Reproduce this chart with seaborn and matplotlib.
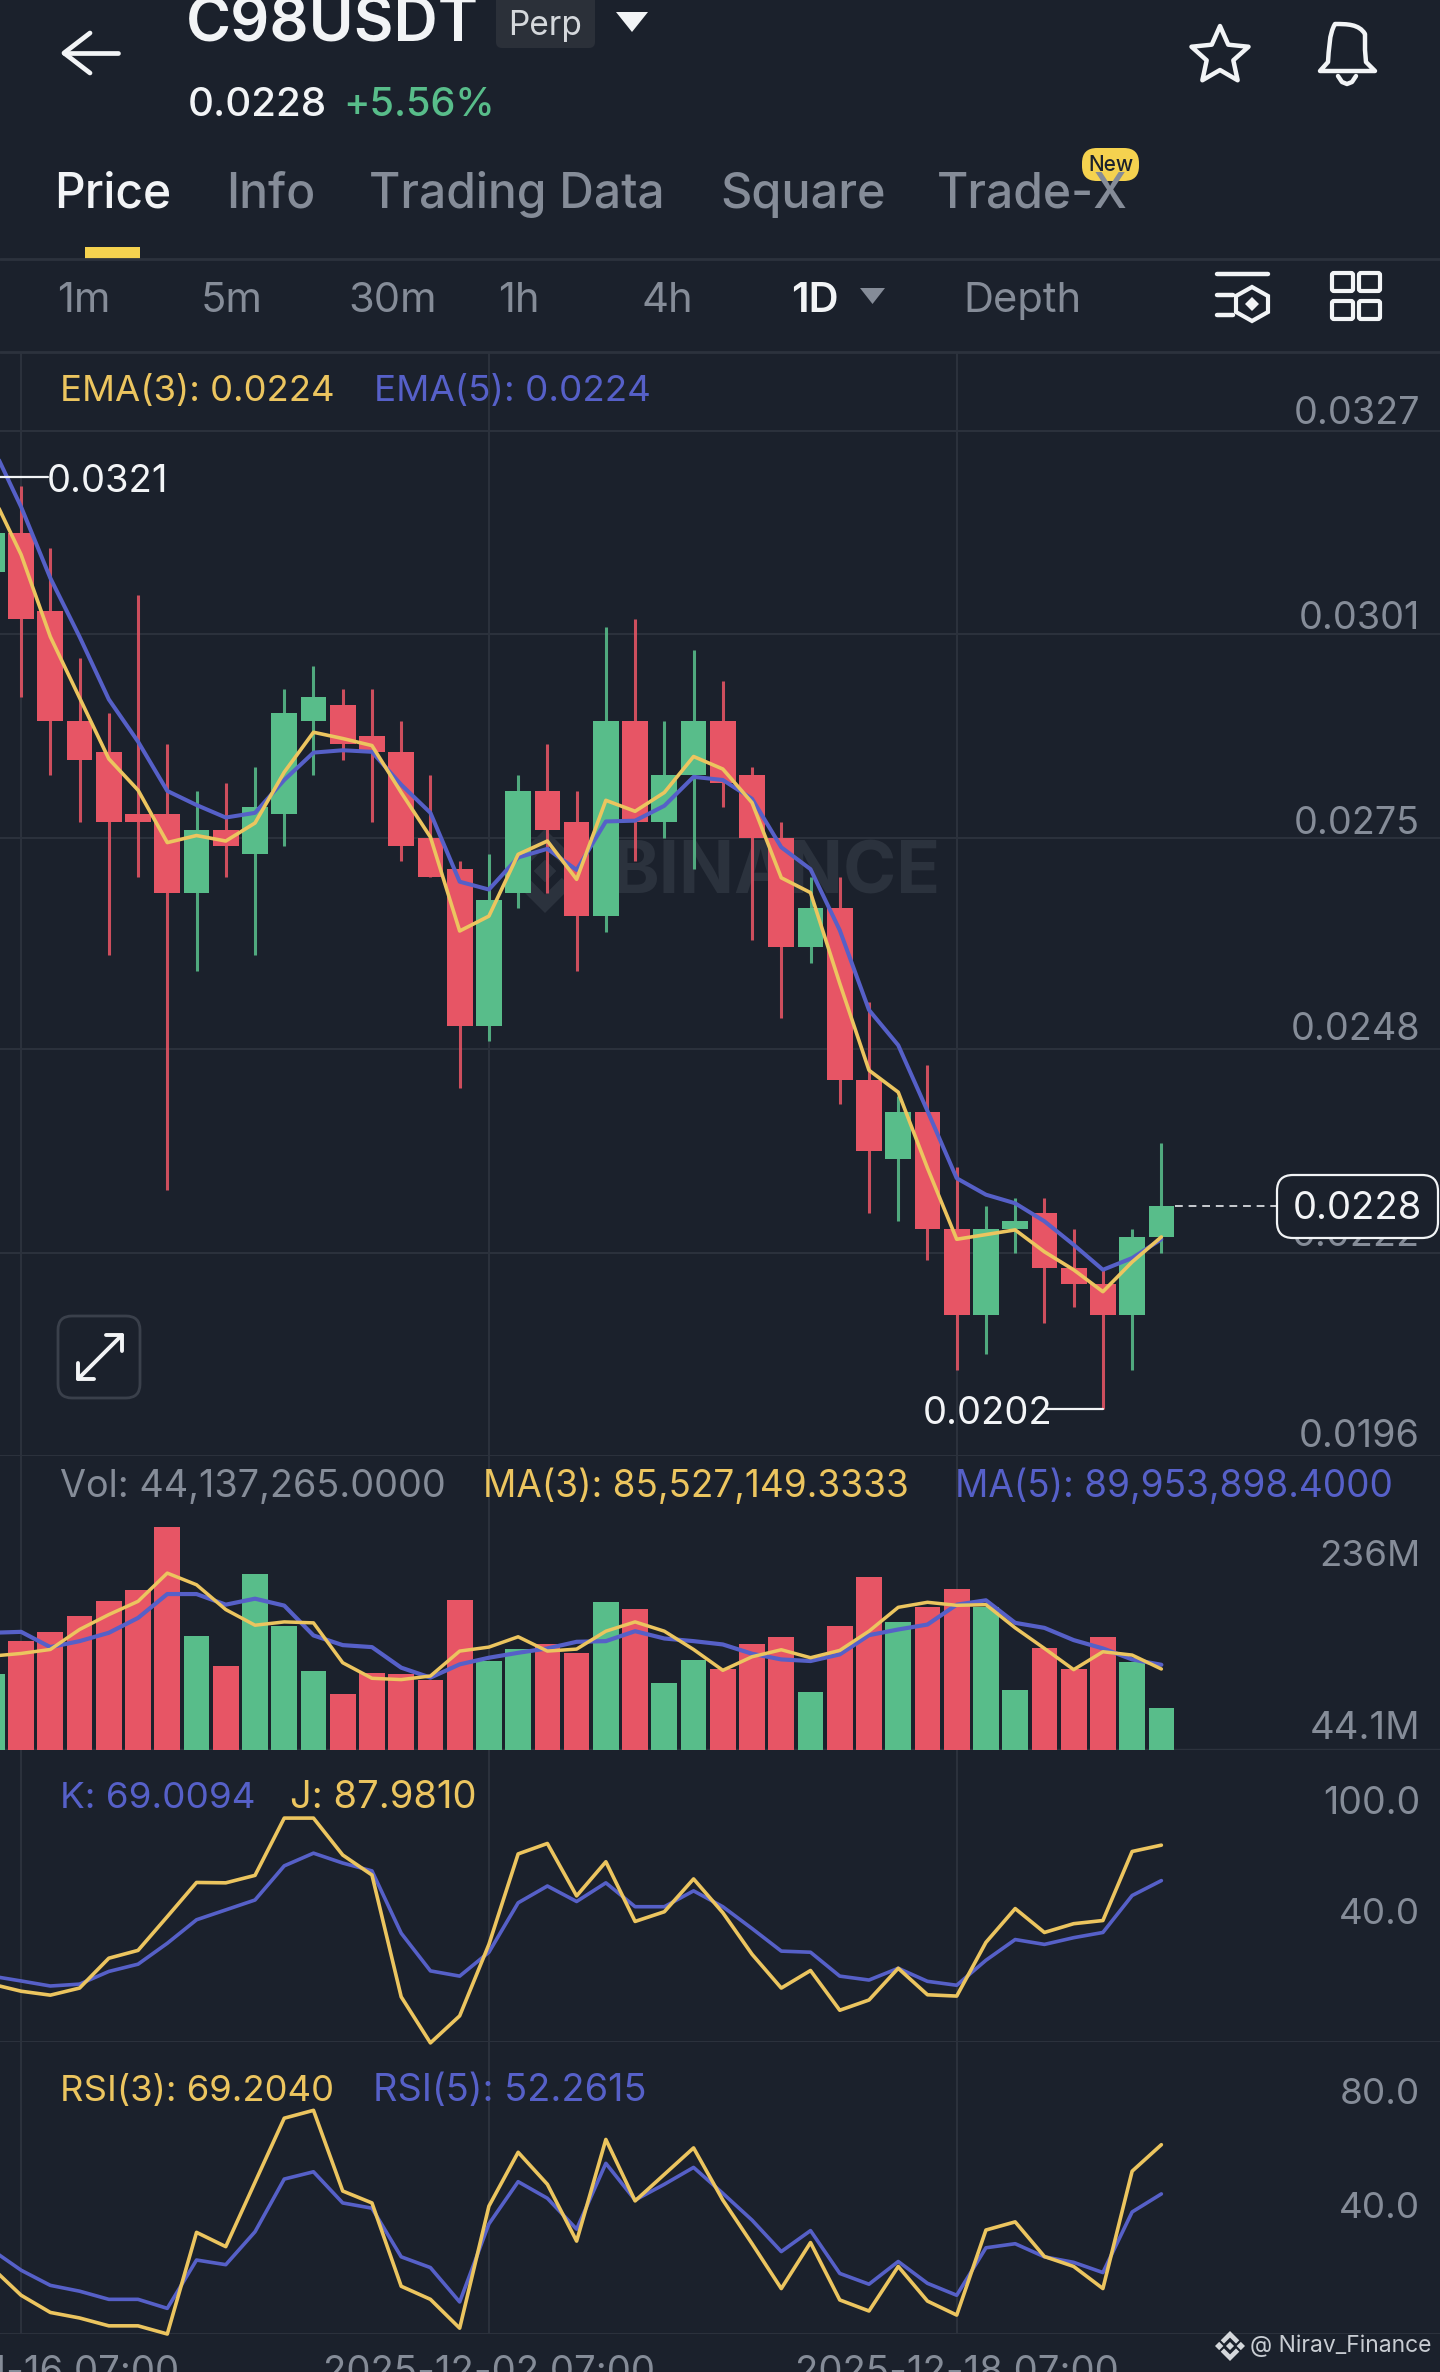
import numpy as np
import pandas as pd
import matplotlib.pyplot as plt
from matplotlib.patches import FancyBboxPatch, PathPatch, Polygon, Rectangle
from matplotlib.path import Path
import seaborn as sns

BG = "#1b212c"
GRID = "#2c323d"
GRAY = "#858c98"
WHITE = "#f2f4f6"
RED = "#e75565"
GREEN = "#58bd8a"
YELLOW = "#ecc55f"
BLUE = "#5660c8"

# candles from index -1 to 39
candle_idx = list(range(-1, 40))
is_up = [1, 0, 0, 0, 0, 0, 0, 1, 0, 1, 1, 1, 0, 0, 0, 0, 0, 1, 1, 0, 0, 1, 0, 1, 1, 0, 0, 0, 1, 0, 0, 1, 0, 0, 1, 1, 0, 0, 0, 1, 1]
body_top = [.0314, .0314, .0304, .0290, .0286, .0278, .0278, .0276, .0276, .0279, .0291, .0293, .0292, .0288, .0286, .0275, .0271, .0267, .0281, .0281,
            .0277, .0290, .0290, .0283, .0290, .0290, .0283, .0275, .0266, .0266, .0244, .0240, .0240, .0225, .0225, .0226, .0227, .0220, .0218, .0224, .0228]
body_bot = [.0309, .0303, .0290, .0285, .0277, .0277, .0268, .0268, .0274, .0273, .0278, .0290, .0287, .0286, .0274, .0270, .0251, .0251, .0268, .0276,
            .0265, .0265, .0277, .0277, .0283, .0282, .0275, .0261, .0261, .0244, .0235, .0234, .0225, .0214, .0214, .0225, .0220, .0218, .0214, .0214, .0224]
wick_high = [.0321, .0320, .0312, .0298, .0291, .0306, .0287, .0281, .0282, .0284, .0294, .0297, .0294, .0294, .0290, .0283, .0272, .0273, .0283, .0287,
             .0281, .0302, .0303, .0290, .0299, .0295, .0284, .0277, .0270, .0270, .0254, .0242, .0246, .0233, .0228, .0229, .0229, .0225, .0220, .0225, .0236]
wick_low = [.0305, .0293, .0283, .0277, .0260, .0270, .0230, .0258, .0270, .0260, .0274, .0283, .0285, .0277, .0272, .0270, .0243, .0249, .0266, .0268,
            .0258, .0263, .0272, .0275, .0271, .0279, .0262, .0252, .0259, .0241, .0227, .0226, .0221, .0207, .0209, .0222, .0213, .0215, .0202, .0207, .0222]
ema3 = [.03190, .03112, .03007, .02929, .02851, .02811, .02744, .02753, .02746, .02769, .02834, .02885, .02877, .02868, .02808, .02751, .02631, .02650, .02729, .02746,
        .02697, .02798, .02784, .02808, .02854, .02838, .02795, .02699, .02680, .02564, .02453, .02425, .02328, .02237, .02243, .02249, .02221, .02198, .02170, .02208, .02240]
ema5 = [.03252, .03173, .03082, .03007, .02927, .02873, .02810, .02792, .02776, .02782, .02824, .02859, .02862, .02860, .02818, .02782, .02694, .02684, .02725, .02736,
        .02709, .02771, .02772, .02791, .02828, .02824, .02800, .02738, .02710, .02632, .02530, .02485, .02401, .02315, .02294, .02283, .02260, .02230, .02198, .02213, .02237]
price_ticks = [.0327, .0301, .0275, .0248, .0222, .0196]
price_labels = ["0.0327", "0.0301", "0.0275", "0.0248", "0.0222", "0.0196"]

# volume in millions
volume = [79.9, 114.9, 124.4, 141.9, 157.6, 168.5, 235.7, 120.2, 88.3, 185.7, 131.4, 83.4, 59.6, 80.9, 79.9, 74.3, 158.0, 93.9, 106.1, 112.1,
          101.9, 156.2, 148.9, 71.1, 94.6, 85.8, 111.4, 119.5, 61.7, 131.4, 182.9, 134.9, 151.0, 169.9, 151.0, 63.1, 107.2, 85.1, 119.1, 92.8, 44.1]
vol_ma3 = [99.1, 101.9, 106.1, 127.2, 142.9, 156.9, 186.7, 174.4, 148.2, 131.7, 135.2, 134.2, 92.1, 75.7, 74.3, 78.1, 104.4, 108.6, 119.5, 104.4,
           106.5, 125.4, 135.2, 125.4, 106.1, 84.1, 98.4, 105.8, 97.4, 105.1, 125.4, 150.6, 155.9, 152.7, 153.4, 128.9, 107.2, 84.8, 103.7, 100.2, 85.5]
vol_ma5 = [123.7, 124.7, 108.6, 114.9, 123.7, 139.4, 164.6, 164.6, 153.4, 159.7, 152.4, 120.9, 110.7, 108.6, 86.9, 76.4, 90.4, 97.4, 102.6, 107.2,
           114.2, 114.9, 125.4, 117.7, 114.9, 111.4, 101.6, 95.6, 93.9, 100.9, 121.2, 127.2, 132.4, 153.4, 158.0, 134.2, 128.9, 116.0, 107.2, 95.6, 89.95]

kdj_k = [17.8, 15.2, 12.5, 13.5, 20.3, 24.2, 35.4, 48.0, 53.3, 58.6, 76.9, 83.7, 78.4, 74.2, 40.8, 20.6, 17.8, 30.6, 57.1, 66.1,
         57.8, 67.8, 55.0, 55.0, 63.5, 55.0, 43.3, 31.2, 30.6, 17.8, 15.7, 22.0, 15.0, 12.9, 26.3, 37.4, 34.8, 38.4, 41.2, 61.0, 69.0]
kdj_j = [13.5, 9.7, 7.6, 11.4, 27.4, 31.6, 49.7, 68.0, 67.8, 71.8, 102.5, 102.5, 82.7, 72.0, 6.7, -18.0, -3.5, 34.8, 83.3, 88.9,
         60.8, 79.1, 47.1, 52.3, 69.9, 51.8, 29.5, 11.4, 20.8, -0.5, 5.0, 22.0, 7.8, 7.1, 35.9, 54.0, 41.2, 45.9, 47.6, 84.6, 88.0]
rsi3 = [27.0, 17.5, 11.6, 9.7, 7.0, 7.0, 4.2, 39.1, 34.2, 56.3, 78.3, 81.0, 53.3, 49.2, 20.6, 16.1, 6.2, 48.1, 66.6, 55.6,
        36.1, 71.0, 49.9, 59.0, 68.1, 50.2, 35.2, 19.8, 35.6, 15.9, 12.1, 27.4, 15.5, 10.7, 39.9, 42.7, 30.8, 27.4, 19.8, 60.1, 69.2]
rsi5 = [33.1, 26.1, 20.9, 18.9, 16.1, 16.1, 13.0, 29.6, 28.0, 39.3, 57.4, 59.9, 49.2, 47.4, 30.7, 27.0, 15.2, 42.0, 56.5, 50.8,
        40.2, 62.8, 50.2, 55.6, 61.4, 52.5, 43.3, 32.5, 39.7, 25.0, 21.3, 29.1, 21.6, 17.5, 33.8, 35.2, 30.7, 28.8, 25.3, 46.1, 52.3]

date_idx = [0, 16, 32]
date_labels = ["2025-11-16 07:00", "2025-12-02 07:00", "2025-12-18 07:00"]

W, H = 1440, 2372
X0, X1 = -0.722, 48.53  # index range across the full width


def panel(top, bottom):
    ax = fig.add_axes([0, 1 - bottom / H, 1, (bottom - top) / H], facecolor="none")
    ax.set_xlim(X0, X1)
    ax.set_xticks([])
    ax.set_yticks([])
    ax.grid(False)
    for s in ax.spines.values():
        s.set_visible(False)
    for d in date_idx:
        ax.axvline(d, color=GRID, lw=1.4, zorder=0)
    return ax


def draw_line(ax, y, color, lw=2.6):
    sns.lineplot(x=candle_idx, y=y, ax=ax, color=color, linewidth=lw, estimator=None, sort=False, legend=False, zorder=4, clip_on=False)
    ax.set_xticks([])
    ax.set_yticks([])
    ax.set_xlabel("")
    ax.set_ylabel("")


def label(x, y, s, color=GRAY, size=24, ha="left", weight="normal", **kw):
    # va center sits a little high for digits and caps
    ui.text(x, y + 4, s, color=color, fontsize=size, ha=ha, va="center", fontweight=weight, **kw)


def binance_logo(cx, cy, r, color, zo=1, target=None):
    t = target if target is not None else ui
    c = 0.27 * r
    t.add_patch(Polygon([(cx - c, cy), (cx, cy - c), (cx + c, cy), (cx, cy + c)], fc=color, ec="none", zorder=zo))
    for sx in [1, -1]:
        # side pieces
        t.add_patch(Polygon([(cx + sx * r, cy), (cx + sx * 0.72 * r, cy + 0.28 * r), (cx + sx * 0.44 * r, cy), (cx + sx * 0.72 * r, cy - 0.28 * r)],
                            fc=color, ec="none", zorder=zo))
        # top and bottom chevrons
        for sy in [1, -1]:
            pts = [(cx, cy + sy * r), (cx + sx * 0.62 * r, cy + sy * 0.38 * r), (cx + sx * 0.4 * r, cy + sy * 0.16 * r), (cx, cy + sy * 0.56 * r)]
            t.add_patch(Polygon(pts, fc=color, ec="none", zorder=zo))


sns.set_theme(style="dark", rc={"figure.facecolor": BG, "axes.facecolor": BG, "savefig.facecolor": BG})
plt.rcParams["font.family"] = ["Inter", "DejaVu Sans"]

fig = plt.figure(figsize=(W / 100, H / 100), dpi=100)
ui_back = fig.add_axes([0, 0, 1, 1], facecolor=BG, zorder=0)
ui_back.set_xlim(0, W)
ui_back.set_ylim(H, 0)
ui_back.axis("off")

# price panel
ax_price = panel(352, 1456)
ax_price.set_zorder(2)
ax_price.set_ylim(0.0196, 0.03371)
ax_price.axhline(0.0196, color=GRID, lw=1.4, zorder=0)
for t in price_ticks[:-1]:
    ax_price.axhline(t, color=GRID, lw=1.4, zorder=0)

binance_logo(545, 871, 42, "#2b323d", zo=1, target=ui_back)
ui_back.text(611, 875, "BINANCE", color="#2b323d", fontsize=52, fontweight="bold", va="center", ha="left", zorder=1)

colors = [GREEN if u else RED for u in is_up]
ax_price.vlines(candle_idx, wick_low, wick_high, colors=colors, lw=2.2, alpha=0.88, zorder=2)
ax_price.bar(candle_idx, np.array(body_top) - np.array(body_bot), bottom=body_bot, width=0.88, color=colors, linewidth=0, zorder=3)
draw_line(ax_price, ema5, BLUE, lw=2.9)
draw_line(ax_price, ema3, YELLOW)
last_close = body_top[-1]
ax_price.hlines(last_close, candle_idx[-1] + 0.45, 43.75, colors="#c9ccd1", lw=1.4, ls=(0, (4, 3)), zorder=3)

# volume panel
ax_vol = panel(1456, 1750)
ax_vol.set_zorder(2)
ax_vol.set_ylim(0, 310.3)
ax_vol.axhline(0, color=GRID, lw=2.5, zorder=0)
vol_df = pd.DataFrame({"idx": candle_idx, "volume": volume, "side": ["up" if u else "down" for u in is_up]})
sns.barplot(data=vol_df, x="idx", y="volume", hue="side", palette={"up": GREEN, "down": RED}, native_scale=True,
            dodge=False, width=0.88, legend=False, ax=ax_vol, zorder=2, saturation=1, linewidth=0)
ax_vol.set_xlim(X0, X1)
draw_line(ax_vol, vol_ma5, BLUE, lw=3.0)
draw_line(ax_vol, vol_ma3, YELLOW, lw=2.5)

# kdj panel
ax_kdj = panel(1750, 2041.6)
ax_kdj.set_zorder(2)
ax_kdj.set_ylim(-17.3, 139)
ax_kdj.axhline(-17.3, color=GRID, lw=1.4, zorder=0)
draw_line(ax_kdj, kdj_k, BLUE)
draw_line(ax_kdj, kdj_j, YELLOW)

# rsi panel
ax_rsi = panel(2041.6, 2334)
ax_rsi.set_zorder(2)
ax_rsi.set_ylim(4.2, 104.6)
ax_rsi.axhline(4.2, color=GRID, lw=1.4, zorder=0)
draw_line(ax_rsi, rsi5, BLUE)
draw_line(ax_rsi, rsi3, YELLOW)

# overlay in image pixels: app chrome and labels
ui = fig.add_axes([0, 0, 1, 1], facecolor="none", zorder=5)
ui.set_xlim(0, W)
ui.set_ylim(H, 0)
ui.axis("off")

label(186, 22, "C98USDT", WHITE, 44, weight="semibold")
ui.add_patch(FancyBboxPatch((496, -8), 99, 56, boxstyle="round,pad=0,rounding_size=6", fc="#2b3039", ec="none"))
label(545, 22, "Perp", "#d5d8dc", 24, ha="center")
ui.add_patch(Polygon([(616, 12), (648, 12), (632, 32)], fc=WHITE, ec="none"))
ui.plot([64, 118], [53, 53], color=WHITE, lw=3.4, solid_capstyle="round")
ui.plot([90, 64, 90], [33, 53, 73], color=WHITE, lw=3.4, solid_capstyle="round", solid_joinstyle="round")
label(188, 102, "0.0228", WHITE, 29, weight="medium")
label(343, 102, "+5.56%", GREEN, 28.5, weight="medium")

# star and bell
ang = np.pi / 2 + np.arange(10) * np.pi / 5
rad = np.where(np.arange(10) % 2 == 0, 30, 14)
ui.add_patch(Polygon(np.c_[1220 + rad * np.cos(ang), 56 - rad * np.sin(ang)], fc="none", ec=WHITE, lw=3.2, joinstyle="round"))
bell = Path([(1320, 71), (1328, 62), (1329, 50), (1329, 34), (1335, 24), (1347, 24), (1359, 24), (1365, 34), (1365, 50), (1366, 62), (1375, 71), (1320, 71)],
            [Path.MOVETO, Path.LINETO, Path.CURVE4, Path.CURVE4, Path.CURVE4, Path.CURVE4, Path.CURVE4, Path.CURVE4, Path.LINETO, Path.LINETO, Path.LINETO, Path.CLOSEPOLY])
ui.add_patch(PathPatch(bell, fc="none", ec=WHITE, lw=3.2, joinstyle="round"))
ui.plot([1338, 1342, 1347, 1352, 1356], [76, 82, 84, 82, 76], color=WHITE, lw=3.2)

# tabs
label(54, 191, "Price", WHITE, 34.5, weight="medium")
label(226, 191, "Info", GRAY, 34.5, weight="medium")
label(369, 191, "Trading Data", GRAY, 34.5, weight="medium")
label(720, 191, "Square", GRAY, 35, weight="medium")
label(937, 191, "Trade-X", GRAY, 34.5, weight="medium")
ui.add_patch(FancyBboxPatch((1082, 148), 57, 33, boxstyle="round,pad=0,rounding_size=15", fc="#f5d24f", ec="none"))
label(1110.5, 161, "New", "#1b212c", 15, ha="center", weight="medium")
ui.add_patch(Rectangle((85, 247), 55, 12, fc="#f5d24f", ec="none"))
ui.plot([0, W], [259, 259], color=GRID, lw=2)
ui.plot([0, W], [352, 352], color=GRID, lw=2)

# timeframe row
for x, s in [(57, "1m"), (201, "5m"), (348, "30m"), (498, "1h"), (642, "4h"), (963, "Depth")]:
    label(x, 297, s, GRAY, 30)
label(791, 297, "1D", WHITE, 30, weight="semibold")
ui.add_patch(Polygon([(860, 288), (885, 288), (872.5, 304)], fc=GRAY, ec="none"))

# toolbar icons
ui.plot([1217, 1268], [274, 274], color=WHITE, lw=3.2)
ui.plot([1217, 1233], [295, 295], color=WHITE, lw=3.2)
ui.plot([1217, 1233], [315, 315], color=WHITE, lw=3.2)
ui.add_patch(Polygon([(1252, 287), (1268, 296), (1268, 312), (1252, 321), (1236, 312), (1236, 296)], fc="none", ec=WHITE, lw=3))
ui.add_patch(Polygon([(1252, 297), (1259, 304), (1252, 311), (1245, 304)], fc=WHITE, ec="none"))
for x in [1332, 1359]:
    for y in [273, 301]:
        ui.add_patch(FancyBboxPatch((x, y), 21, 18, boxstyle="round,pad=0,rounding_size=2", fc="none", ec=WHITE, lw=3))

# legends
label(60, 388, "EMA(3): 0.0224", YELLOW, 26.3)
label(374, 388, "EMA(5): 0.0224", BLUE, 26.5)
label(60, 1483, "Vol: 44,137,265.0000", GRAY, 27.2)
label(483, 1483, "MA(3): 85,527,149.3333", YELLOW, 26.6)
label(955, 1483, "MA(5): 89,953,898.4000", BLUE, 26.6)
label(60, 1794, "K: 69.0094", BLUE, 26.5)
label(290, 1794, "J: 87.9810", YELLOW, 27.5)
label(60, 2087, "RSI(3): 69.2040", YELLOW, 26.3)
label(373, 2087, "RSI(5): 52.2615", BLUE, 27.3)

# axis labels
for y, s in zip([410, 615, 820, 1026, 1232, 1433], price_labels):
    label(1420, y, s, GRAY, 27.2, ha="right")
label(1420, 1553, "236M", GRAY, 26.5, ha="right")
label(1420, 1725, "44.1M", GRAY, 27.5, ha="right")
label(1420, 1800, "100.0", GRAY, 27, ha="right")
label(1420, 1911, "40.0", GRAY, 26.5, ha="right")
label(1420, 2090, "80.0", GRAY, 26.5, ha="right")
label(1420, 2205, "40.0", GRAY, 26.5, ha="right")

# high, low and last price tags
ui.plot([0, 48], [477, 477], color=WHITE, lw=1.6)
label(47, 478, "0.0321", WHITE, 27.5)
ui.plot([1047, 1103], [1409, 1409], color=WHITE, lw=1.6)
label(923, 1410, "0.0202", WHITE, 27.5)
ui.add_patch(FancyBboxPatch((1277, 1175), 161, 63, boxstyle="round,pad=0,rounding_size=16", fc=BG, ec=WHITE, lw=1.6, zorder=3))
label(1357, 1205, "0.0228", WHITE, 27.5, ha="center", zorder=4)

# expand button
ui.add_patch(FancyBboxPatch((58, 1316), 82, 82, boxstyle="round,pad=0,rounding_size=14", fc="none", ec="#3a404b", lw=2))
ui.plot([78, 122], [1379, 1335], color=WHITE, lw=2.8)
ui.plot([78, 78, 94], [1363, 1379, 1379], color=WHITE, lw=2.8)
ui.plot([106, 122, 122], [1335, 1335, 1351], color=WHITE, lw=2.8)

# date axis, cut by the bottom edge
for d, s in zip(date_idx, date_labels):
    label(21.1 + 29.24 * d, 2369, s, GRAY, 27.6, ha="center")

binance_logo(1230, 2346, 15, "#d4d7db")
label(1250, 2342, "@ Nirav_Finance", "#c8ccd2", 16.5)

fig.savefig("out.png", dpi=100, facecolor=BG)
